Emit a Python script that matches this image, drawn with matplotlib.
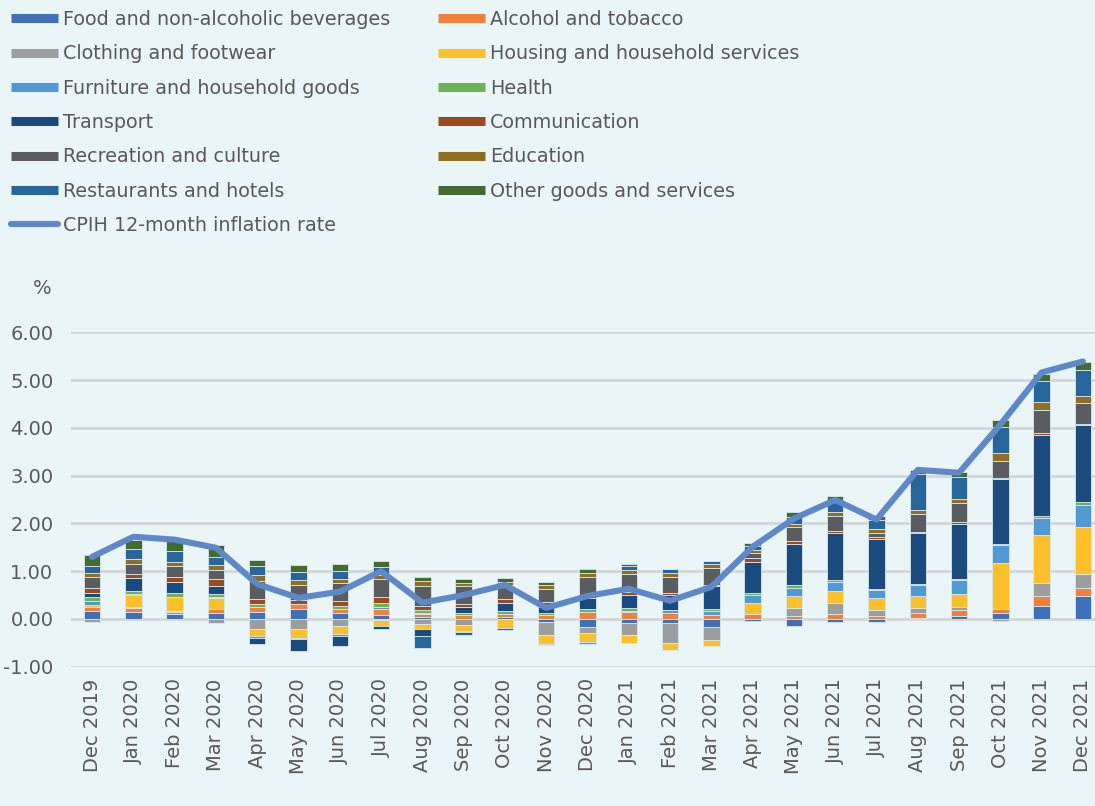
import matplotlib
matplotlib.use('Agg')
import matplotlib.pyplot as plt
from matplotlib.lines import Line2D
from matplotlib.ticker import FormatStrFormatter
import numpy as np

months = ["Dec 2019", "Jan 2020", "Feb 2020", "Mar 2020", "Apr 2020", "May 2020", "Jun 2020",
          "Jul 2020", "Aug 2020", "Sep 2020", "Oct 2020", "Nov 2020", "Dec 2020", "Jan 2021",
          "Feb 2021", "Mar 2021", "Apr 2021", "May 2021", "Jun 2021", "Jul 2021", "Aug 2021",
          "Sep 2021", "Oct 2021", "Nov 2021", "Dec 2021"]

food = [0.17, 0.14, 0.10, 0.13, 0.14, 0.20, 0.13, 0.08, 0.03, 0.00, 0.03, -0.07, -0.16, -0.09, -0.08,
        -0.16, -0.04, -0.15, -0.07, -0.07, 0.02, 0.07, 0.12, 0.27, 0.47]
alcohol = [0.07, 0.08, 0.05, 0.07, 0.11, 0.12, 0.08, 0.13, 0.08, 0.08, 0.08, 0.09, 0.14, 0.14, 0.13,
           0.09, 0.10, 0.07, 0.11, 0.06, 0.11, 0.12, 0.08, 0.22, 0.17]
clothing = [-0.07, 0.02, 0.02, -0.09, -0.21, -0.22, -0.15, -0.03, -0.10, -0.12, 0.00, -0.27, -0.13,
            -0.24, -0.42, -0.29, 0.00, 0.16, 0.22, 0.12, 0.09, 0.06, -0.05, 0.26, 0.30]
housing = [0.05, 0.27, 0.28, 0.24, -0.15, -0.18, -0.17, -0.11, -0.12, -0.13, -0.18, -0.19, -0.20,
           -0.18, -0.15, -0.12, 0.24, 0.25, 0.25, 0.25, 0.27, 0.28, 0.97, 1.00, 0.99]
furniture = [0.08, 0.01, 0.01, 0.02, -0.03, -0.03, -0.03, 0.05, 0.02, -0.02, -0.02, -0.02, -0.04,
             0.03, 0.05, 0.08, 0.17, 0.17, 0.20, 0.18, 0.21, 0.28, 0.37, 0.37, 0.45]
health = [0.08, 0.07, 0.08, 0.06, 0.06, 0.00, 0.06, 0.07, 0.05, 0.05, 0.06, 0.04, 0.06, 0.05, 0.00,
          0.03, 0.04, 0.07, 0.04, 0.02, 0.03, 0.03, 0.03, 0.03, 0.06]
transport = [0.10, 0.26, 0.24, 0.17, -0.14, -0.24, -0.21, -0.08, -0.13, 0.12, 0.16, 0.12, 0.24, 0.29,
             0.33, 0.49, 0.64, 0.85, 0.98, 1.05, 1.07, 1.14, 1.35, 1.71, 1.62]
communication = [0.10, 0.10, 0.10, 0.14, 0.10, 0.08, 0.10, 0.12, 0.10, 0.07, 0.08, 0.10, 0.04, 0.05,
                 0.04, 0.03, 0.09, 0.06, 0.05, 0.03, 0.03, 0.04, 0.03, 0.03, 0.03]
recreation = [0.22, 0.21, 0.22, 0.19, 0.38, 0.32, 0.39, 0.38, 0.41, 0.37, 0.29, 0.28, 0.40, 0.38,
              0.33, 0.35, 0.10, 0.29, 0.30, 0.09, 0.37, 0.40, 0.35, 0.48, 0.42]
education = [0.10, 0.10, 0.10, 0.10, 0.12, 0.10, 0.08, 0.09, 0.10, 0.07, 0.08, 0.09, 0.08, 0.08,
             0.08, 0.08, 0.07, 0.07, 0.08, 0.08, 0.07, 0.10, 0.17, 0.17, 0.16]
restaurants = [0.14, 0.20, 0.22, 0.17, 0.20, 0.17, 0.16, 0.16, -0.26, -0.07, -0.03, 0.00, 0.00, 0.09,
               0.08, 0.07, 0.07, 0.15, 0.27, 0.20, 0.77, 0.45, 0.55, 0.44, 0.54]
other = [0.23, 0.20, 0.21, 0.26, 0.13, 0.13, 0.14, 0.14, 0.09, 0.08, 0.08, 0.06, 0.08, 0.04, 0.00,
         0.00, 0.07, 0.10, 0.08, 0.08, 0.07, 0.10, 0.14, 0.15, 0.17]
cpih = [1.30, 1.72, 1.66, 1.49, 0.73, 0.44, 0.57, 1.00, 0.34, 0.50, 0.71, 0.23, 0.48, 0.63, 0.38,
        0.67, 1.51, 2.10, 2.49, 2.08, 3.12, 3.06, 4.07, 5.16, 5.39]

series_names = ["Food and non-alcoholic beverages", "Alcohol and tobacco", "Clothing and footwear",
                "Housing and household services", "Furniture and household goods", "Health",
                "Transport", "Communication", "Recreation and culture", "Education",
                "Restaurants and hotels", "Other goods and services"]
series_values = [food, alcohol, clothing, housing, furniture, health, transport, communication,
                 recreation, education, restaurants, other]
line_name = "CPIH 12-month inflation rate"

colors = ["#3F70BA", "#F0803C", "#9B9D9E", "#FEC02A", "#5199D3", "#6CB356", "#1B4A7E",
          "#9A4A1E", "#5A5D5F", "#8F6E22", "#28659A", "#436B31"]
LINE_C = "#5E88C8"
BG = "#E9F5F6"
TXT = "#595959"
GRID = "#D2D6D7"

W, H = 1095, 806
fig = plt.figure(figsize=(W / 100, H / 100), dpi=100)
fig.patch.set_facecolor(BG)

unit = 47.77
y_top = 332.3 - 0.01 * unit
y_bot = 666.7 + 0.01 * unit
ax = fig.add_axes([71.4 / W, (H - y_bot) / H, 1032.2 / W, (y_bot - y_top) / H])
ax.set_facecolor(BG)

x = np.arange(len(months))
pos_b = np.zeros(len(months))
neg_b = np.zeros(len(months))
for vals, col in zip(series_values, colors):
    v = np.array(vals, dtype=float)
    bottoms = np.where(v >= 0, pos_b, neg_b)
    ax.bar(x, v, 0.4, bottom=bottoms, color=col, edgecolor="#D8E8EC", linewidth=0.6, zorder=2)
    pos_b += np.where(v > 0, v, 0)
    neg_b += np.where(v < 0, v, 0)

ax.plot(x, cpih, color=LINE_C, lw=4.4, solid_capstyle="round", solid_joinstyle="round", zorder=3)

ax.set_xlim(-0.5, len(months) - 0.5)
ax.set_ylim(-1.01, 6.01)
ax.set_yticks(np.arange(-1, 7))
ax.yaxis.set_major_formatter(FormatStrFormatter("%.2f"))
ax.grid(axis="y", color=GRID, lw=2, zorder=0)
ax.set_axisbelow(True)
for s in ax.spines.values():
    s.set_visible(False)
ax.tick_params(axis="both", length=0, labelsize=14, labelcolor=TXT)
ax.tick_params(axis="y", pad=13)
ax.tick_params(axis="x", pad=8)
ax.set_xticks(x)
ax.set_xticklabels(months, rotation=90)

fig.text(42 / W, 1 - 289 / H, "%", ha="center", va="center", fontsize=14, color=TXT)

def bar_handle(c):
    return Line2D([], [], color=c, lw=6.5, solid_capstyle="butt")

col1_idx = [0, 2, 4, 6, 8, 10]
col2_idx = [1, 3, 5, 7, 9, 11]
h1 = [bar_handle(colors[i]) for i in col1_idx] + [
    Line2D([], [], color=LINE_C, lw=4.4, solid_capstyle="round")]
l1 = [series_names[i] for i in col1_idx] + [line_name]
h2 = [bar_handle(colors[i]) for i in col2_idx]
l2 = [series_names[i] for i in col2_idx]

common = dict(loc="upper left", frameon=False, fontsize=13.8, handlelength=2.45, handletextpad=0.25,
              labelspacing=0.8, borderpad=0, borderaxespad=0, labelcolor=TXT)
fig.legend(h1, l1, bbox_to_anchor=(11 / W, 1 - 10 / H), **common)
fig.legend(h2, l2, bbox_to_anchor=(438 / W, 1 - 10 / H), **common)

fig.savefig("out.png", dpi=100, facecolor=BG)
